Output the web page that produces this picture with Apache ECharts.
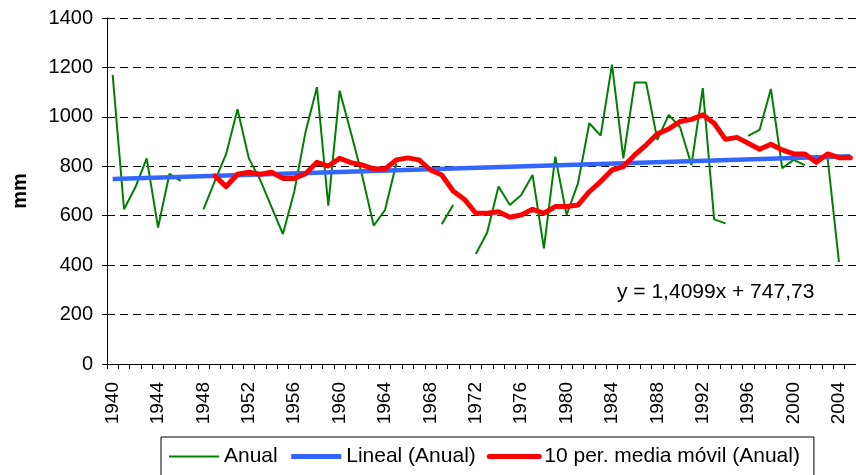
<!DOCTYPE html>
<html>
<head>
<meta charset="utf-8">
<script src="https://cdn.jsdelivr.net/npm/echarts@6/dist/echarts.min.js"></script>
<style>
    html, body { margin: 0; padding: 0; background: #fff; }
    #chart { width: 856px; height: 475px; }
</style>
</head>
<body>
<div id="chart"></div>
<script>
    // años 1940 - 2005
    const years = []
    for (let y = 1940; y <= 2005; y++) years.push(String(y))

    // precipitación anual (mm), null = sin dato
    const anual = [
        1170, 626, 715, 832, 552, 769, 741, null, 626, 740,
        850, 1031, 832, 745, 635, 526, 697, 940, 1120, 641,
        1106, 935, 760, 560, 623, 812, null, null, null, 566,
        643, null, 445, 532, 718, 643, 684, 765, 468, 839,
        603, 731, 974, 924, 1211, 832, 1139, 1139, 907, 1008,
        958, 805, 1116, 585, 569, null, 923, 947, 1113, 792,
        826, 805, null, 832, 412, null
    ]

    // media móvil de 10 periodos
    const mediaMovil = [
        null, null, null, null, null, null, null, null, null, 761,
        718, 768, 776, 768, 776, 751, 751, 770, 816, 801,
        832, 815, 805, 790, 789, 826, 834, 826, 785, 765,
        700, 666, 610, 610, 616, 594, 603, 626, 610, 637,
        637, 643, 697, 738, 785, 799, 846, 886, 931, 951,
        981, 990, 1008, 974, 909, 917, 893, 869, 889, 866,
        850, 850, 816, 850, 835, 835
    ]

    // extremos de la línea de tendencia (y = 1,4099x + 747,73)
    const tendencia = [749, 841]
    const ecuacion = 'y = 1,4099x + 747,73'

    const lineal = years.map((_, i) => i === 0 ? tendencia[0] : (i === years.length - 1 ? tendencia[1] : null))

    const font = 'Liberation Sans'

    const chart = echarts.init(document.getElementById('chart'))
    chart.setOption({
        animation: false,
        textStyle: { fontFamily: font, color: '#000' },
        grid: { left: 107, right: -1, top: 18, bottom: 111 },
        xAxis: {
            type: 'category',
            data: years,
            boundaryGap: true,
            axisLine: { lineStyle: { color: '#000', width: 1 } },
            axisTick: { show: true, interval: 0, length: 5, lineStyle: { color: '#000' } },
            axisLabel: {
                interval: 3,
                rotate: 90,
                margin: 18,
                fontSize: 19,
                color: '#000',
                fontFamily: font
            },
            splitLine: { show: false }
        },
        yAxis: {
            type: 'value',
            min: 0,
            max: 1400,
            interval: 200,
            name: 'mm',
            nameLocation: 'middle',
            nameGap: 77,
            nameTextStyle: { fontSize: 20, fontWeight: 'bold', color: '#000', fontFamily: font },
            axisLine: { show: true, lineStyle: { color: '#000', width: 1 } },
            axisTick: { show: true, length: 5, lineStyle: { color: '#000' } },
            axisLabel: {
                fontSize: 20, margin: 14, color: '#000', fontFamily: font,
                formatter: v => String(v)
            },
            splitLine: { show: true, lineStyle: { color: '#000', type: [8, 5], width: 1 } }
        },
        legend: {
            left: 161,
            top: 437,
            orient: 'horizontal',
            itemWidth: 50,
            itemHeight: 14,
            itemGap: 11,
            padding: [9, 14, 20, 7],
            borderColor: '#000',
            borderWidth: 1,
            itemStyle: { opacity: 0 },
            textStyle: { fontSize: 21, color: '#000', fontFamily: font },
            data: [
                { name: 'Anual', lineStyle: { width: 2 } },
                { name: 'Lineal (Anual)', lineStyle: { width: 5 } },
                { name: '10 per. media móvil (Anual)', lineStyle: { width: 5 } }
            ]
        },
        graphic: [{
            type: 'text',
            left: 617,
            top: 282,
            style: { text: ecuacion, font: '21px "Liberation Sans"', fill: '#000' }
        }],
        series: [
            {
                name: 'Anual',
                type: 'line',
                data: anual,
                symbol: 'none',
                connectNulls: false,
                lineStyle: { color: '#008000', width: 2 },
                itemStyle: { color: '#008000' }
            },
            {
                name: 'Lineal (Anual)',
                type: 'line',
                data: lineal,
                symbol: 'none',
                connectNulls: true,
                lineStyle: { color: '#3366ff', width: 4.5 },
                itemStyle: { color: '#3366ff' }
            },
            {
                name: '10 per. media móvil (Anual)',
                type: 'line',
                data: mediaMovil,
                symbol: 'none',
                lineStyle: { color: '#ff0000', width: 5, join: 'round', cap: 'round' },
                itemStyle: { color: '#ff0000' }
            }
        ]
    })
</script>
</body>
</html>
